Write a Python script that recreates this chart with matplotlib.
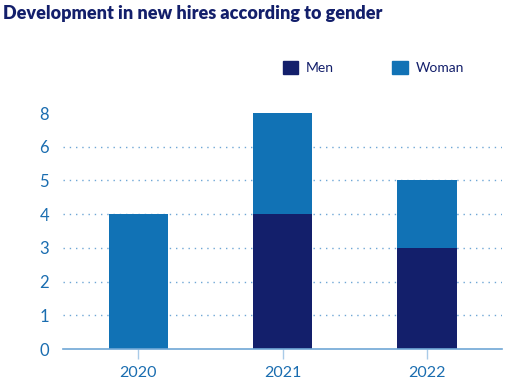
import numpy as np
import matplotlib.pyplot as plt
from matplotlib.patches import Patch

years = ['2020', '2021', '2022']
men = [0, 4, 3]
women = [4, 4, 2]
tick_vals = [0, 1, 2, 3, 4, 5, 6, 8]

navy = '#131f6b'
blue = '#1172b5'
label_blue = '#1a6db0'
grid_blue = '#6fa7d6'

plt.rcParams['font.family'] = ['Lato', 'DejaVu Sans']

# axis labels are evenly spaced even though 7 is skipped
positions = np.arange(len(tick_vals))
def forward(v):
    return np.interp(v, tick_vals, positions)
def inverse(p):
    return np.interp(p, positions, tick_vals)

fig = plt.figure(figsize=(5.26, 3.9), dpi=100)
ax = fig.add_axes([63/526, 1 - 349/390, 439/526, 236/390])
ax.set_yscale('function', functions=(forward, inverse))

x = np.arange(len(years))
ax.bar(x, men, width=0.41, color=navy, zorder=3)
ax.bar(x, women, width=0.41, bottom=men, color=blue, zorder=3)

for v in tick_vals[1:-1]:
    ax.axhline(v, color=grid_blue, linestyle=(0, (1, 3.5)), linewidth=1, zorder=1)

ax.set_xlim(-0.523, 2.52)
ax.set_ylim(0, 8)
ax.set_yticks(tick_vals)
ax.set_yticklabels([str(v) for v in tick_vals])
ax.yaxis.set_minor_locator(plt.NullLocator())
ax.set_xticks(x)
ax.set_xticklabels(years)

for s in ['top', 'right', 'left']:
    ax.spines[s].set_visible(False)
ax.spines['bottom'].set_color(grid_blue)
ax.spines['bottom'].set_linewidth(1.2)
ax.spines['bottom'].set_zorder(4)

ax.tick_params(axis='y', length=0, pad=10, labelsize=12, labelcolor=label_blue)
ax.tick_params(axis='x', length=7, width=1, color='#a9cbe8', pad=5,
               labelsize=11.5, labelcolor=label_blue)

fig.text(0.006, 0.988, 'Development in new hires according to gender',
         fontsize=13, fontweight='heavy', color=navy, va='top', ha='left')

handles = [Patch(color=navy, label='Men'), Patch(color=blue, label='Woman')]
fig.legend(handles=handles, loc='upper left', bbox_to_anchor=(270/526, 1 - 48/390),
           ncol=2, frameon=False, fontsize=10, handlelength=1.1, handleheight=1.1,
           handletextpad=0.6, columnspacing=4.2, labelcolor=navy)

fig.savefig('out.png', dpi=100)
